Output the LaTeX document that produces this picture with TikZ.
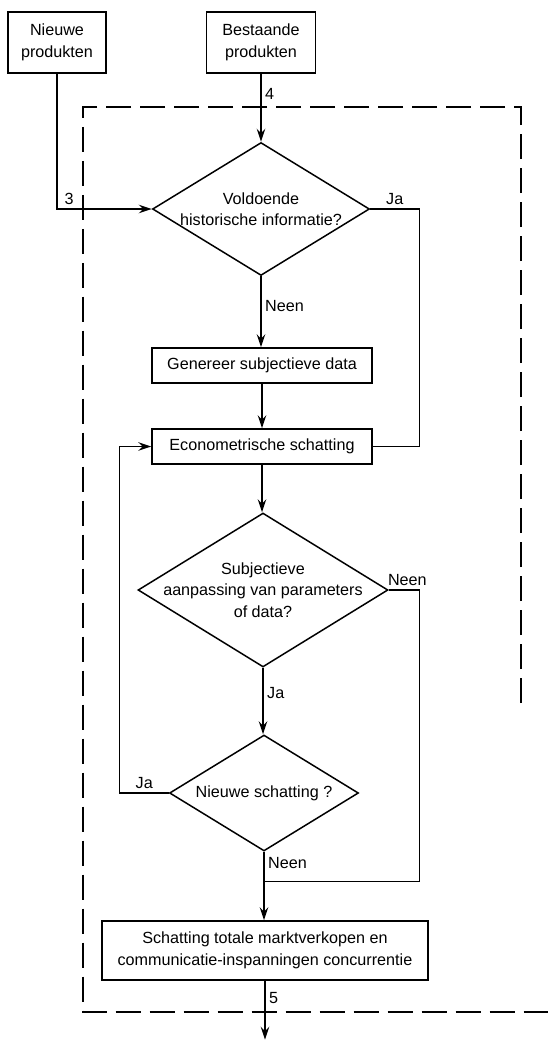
\documentclass[tikz,border=0pt]{standalone}
\usepackage{fontspec}
\setmainfont{Liberation Sans}
\usetikzlibrary{arrows.meta, shapes.geometric, calc}

\begin{document}
\begin{tikzpicture}[
    x=0.02cm, y=-0.02cm,
    txt/.style={font=\fontsize{9.2}{12.2}\selectfont, align=center},
    box/.style={draw, line width=0.85pt, txt, inner sep=2pt},
    keuze/.style={draw, shape=diamond, line width=0.85pt, inner sep=0pt},
    arr/.style={-{Stealth[length=2.6mm, width=1.7mm, inset=0.9mm]}, line width=0.8pt},
    lijn/.style={line width=0.8pt},
    lbl/.style={txt, inner sep=2pt}
  ]
    \useasboundingbox (0,0) rectangle (554,1041);

    %% DASHED FRAME
    \draw[lijn, dash pattern=on 0.5cm off 0.18cm]
      (521,703) -- (521,107) -- (83,107) -- (83,1012) -- (554,1012);

    %% INPUT BOXES
    \node[box, minimum width=1.96cm, minimum height=1.22cm] (nieuwe)
      at (57,42.5) {Nieuwe\\produkten};
    \node[box, minimum width=2.18cm, minimum height=1.22cm] (bestaande)
      at (261,42.5) {Bestaande\\produkten};

    %% DECISIONS AND STEPS
    \node[keuze, minimum width=4.34cm, minimum height=2.66cm,
          label={[txt]center:{Voldoende\\historische informatie?}}] (hist)
      at (261,209) {};
    \node[box, minimum width=4.4cm, minimum height=0.7cm] (gen)
      at (262,365.5) {Genereer subjectieve data};
    \node[box, minimum width=4.4cm, minimum height=0.7cm] (econ)
      at (262,446.5) {Econometrische schatting};
    \node[keuze, minimum width=5.0cm, minimum height=3.08cm,
          label={[txt]center:{Subjectieve\\aanpassing van parameters\\of data?}}] (subj)
      at (263,590) {};
    \node[keuze, minimum width=3.78cm, minimum height=2.32cm,
          label={[txt]center:{Nieuwe schatting ?}}] (schat)
      at (264,793) {};
    \node[box, minimum width=6.52cm, minimum height=1.18cm] (totaal)
      at (265,950.5) {Schatting totale marktverkopen en\\communicatie-inspanningen concurrentie};

    \coordinate (samen) at ($(schat.south)!0.43!(schat.south |- totaal.north)$);
    \coordinate (uit) at ($(totaal.south)+(0,59)$);

    %% ARROWS
    \draw[arr] (nieuwe.south) |- node[pos=0.5, above right, lbl, xshift=2pt] {3} (hist.west);
    \draw[arr] (bestaande.south) -- node[pos=0.3, right, lbl] {4} (hist.north);
    \draw[lijn] (hist.east) -- node[pos=0.5, above, lbl] {Ja} ++(49,0) |- (econ.east);
    \draw[arr] (hist.south) -- node[pos=0.42, right, lbl] {Neen} (hist.south |- gen.north);
    \draw[arr] (gen.south) -- (econ.north);
    \draw[arr] (econ.south) -- (econ.south |- subj.north);
    \draw[lijn] (subj.east) -- node[pos=0.6, above, lbl] {Neen} ++(31,0) |- (samen);
    \draw[arr] (subj.south) -- node[pos=0.38, right, lbl] {Ja} (subj.south |- schat.north);
    \draw[arr] (schat.west) -- node[pos=0.5, above, lbl] {Ja} ++(-49,0) |- (econ.west);
    \draw[arr] (schat.south) -- node[pos=0.17, right, lbl] {Neen} (schat.south |- totaal.north);
    \draw[arr] (totaal.south) -- node[pos=0.3, right, lbl] {5} (uit);
  \end{tikzpicture}
\end{document}
